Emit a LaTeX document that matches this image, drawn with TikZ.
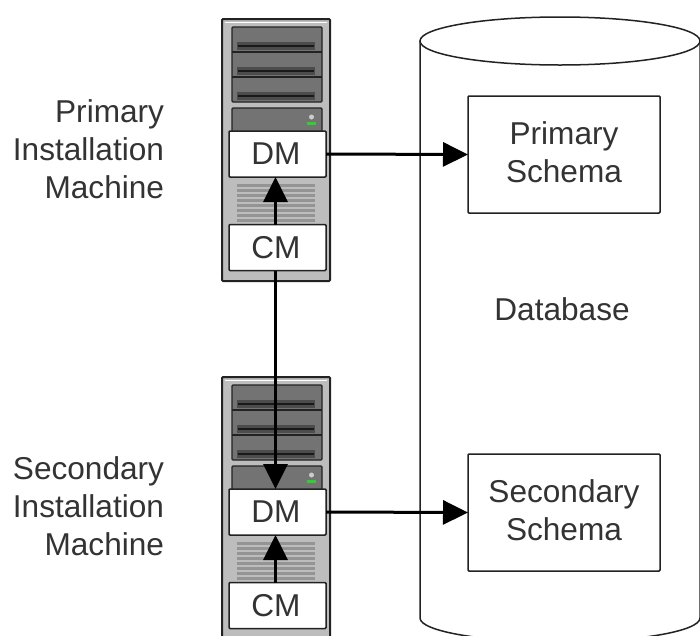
\documentclass[tikz,border=0pt]{standalone}
\usepackage{fontspec}
\setmainfont{Liberation Sans}
\usetikzlibrary{arrows.meta}
\definecolor{inkc}{HTML}{222222}
\definecolor{textc}{HTML}{333333}
\definecolor{chassis}{HTML}{BDBDBD}
\definecolor{bay}{HTML}{737373}
\definecolor{ledc}{HTML}{33CC33}
\tikzset{
  x=1pt,y=-1pt,
  every node/.style={font=\fontsize{31.6}{36}\selectfont,text=textc,inner sep=0pt,outer sep=0pt},
  lab/.style={anchor=base east},
  modbox/.style={draw=inkc,line width=1.5pt,fill=white,rounded corners=1pt,minimum width=97pt,minimum height=46pt},
  schemabox/.style={draw=inkc,line width=1.5pt,fill=white,rounded corners=1pt,minimum width=192pt,minimum height=117pt},
  link/.style={draw=black,line width=3pt,-{Triangle[length=25pt,width=24pt]}},
  dboutline/.style={draw=inkc,line width=1.5pt,fill=white},
}
\newcommand{\serverbody}[2]{%
  \begin{scope}[yshift=-#1pt]
    \draw[draw=inkc,line width=2pt,fill=chassis,rounded corners=1pt] (222,19) rectangle (330,#2);
    \draw[draw=white,line width=.8pt] (225,22) -- (327,22);
    \draw[draw=inkc,line width=1.3pt,fill=bay,rounded corners=1pt] (232,27) rectangle (322,102);
    \draw[draw=inkc,line width=1.2pt] (232,52) -- (322,52) (232,77) -- (322,77);
    \foreach \yy in {46,71,96}{
      \fill[black!70] (237,\yy-4) rectangle (315,\yy+4);
      \fill[black!90] (238,\yy-1.2) rectangle (314,\yy+1.2);
    }
    \draw[draw=inkc,line width=1.3pt,fill=bay,rounded corners=1pt] (232,108) rectangle (322,135);
    \fill[black!20] (311.5,117) circle (2.5pt);
    \fill[ledc] (307,122) rectangle (316,125);
    \foreach \yy in {184,189,194,199,204,209,214,219}{
      \fill[black!42] (237,\yy) rectangle (315,\yy+2.5);
    }
  \end{scope}}
\newcommand{\twolines}[2]{\raisebox{-8pt}[0pt][0pt]{\begin{tabular}{@{}c@{}}#1\\[2pt]#2\end{tabular}}}
\newcommand{\modtext}[1]{\hspace*{-3pt}#1}
\begin{document}
\begin{tikzpicture}
  \useasboundingbox (0,0) rectangle (700,635);
  \clip (0,0) rectangle (700,635);
  \fill[white] (0,0) rectangle (700,635);

  % database cylinder
  \draw[dboutline] (420,41) -- (420,618) arc[start angle=180,end angle=0,x radius=140,y radius=24] -- (700,41);
  \draw[dboutline] (560,41) ellipse[x radius=140,y radius=24];

  % servers
  \serverbody{0}{281}
  \serverbody{358}{400}

  % modules
  \node[modbox] (dma) at (277.5,154) {\modtext{DM}};
  \node[modbox] (cma) at (277.5,247.5) {\modtext{CM}};
  \node[modbox] (dmb) at (277.5,512) {\modtext{DM}};
  \node[modbox] (cmb) at (277.5,605.5) {\modtext{CM}};

  % schemas
  \node[schemabox] (sa) at (564,154.5) {\twolines{Primary}{Schema}};
  \node[schemabox] (sb) at (564,512.5) {\twolines{Secondary}{Schema}};
  \node[anchor=center] (dbl) at (562,309) {Database};

  % side labels
  \node[lab] (pa1) at (164,122) {Primary};
  \node[lab] (pa2) at (164,160) {Installation};
  \node[lab] (pa3) at (164,198) {Machine};
  \node[lab] (pb1) at (164,479) {Secondary};
  \node[lab] (pb2) at (164,517) {Installation};
  \node[lab] (pb3) at (164,555) {Machine};

  % connectors
  \draw[link] (dma.east) -- (sa.west);
  \draw[link] (dmb.east) -- (sb.west);
  \draw[link] ([xshift=-2pt]cma.north) -- ([xshift=-2pt]dma.south);
  \draw[link] ([xshift=-2pt]cmb.north) -- ([xshift=-2pt]dmb.south);
  \draw[link] ([xshift=-2pt]cma.south) -- ([xshift=-2pt]dmb.north);
\end{tikzpicture}
\end{document}
